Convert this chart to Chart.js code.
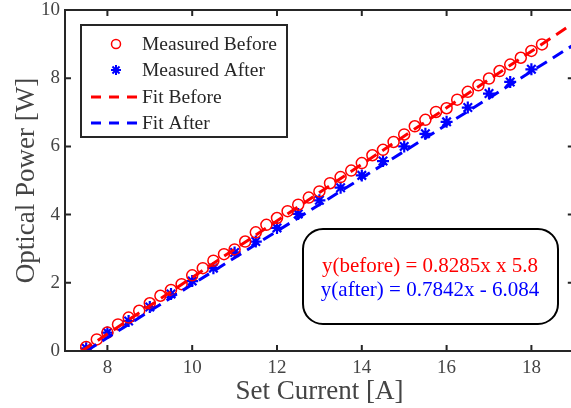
<!DOCTYPE html>
<html>
<head>
<meta charset="utf-8">
<script src="https://cdn.jsdelivr.net/npm/chart.js@4/dist/chart.umd.min.js"></script>
<style>
  html, body { margin: 0; padding: 0; background: #fff; overflow: hidden; }
  #wrap { width: 582px; height: 408px; }
</style>
</head>
<body>
<div id="wrap"><canvas id="powerChart" width="582" height="408"></canvas></div>
<script>
const currentBefore = [7.5, 7.75, 8, 8.25, 8.5, 8.75, 9, 9.25, 9.5, 9.75,
  10, 10.25, 10.5, 10.75, 11, 11.25, 11.5, 11.75, 12, 12.25, 12.5, 12.75,
  13, 13.25, 13.5, 13.75, 14, 14.25, 14.5, 14.75, 15, 15.25, 15.5, 15.75,
  16, 16.25, 16.5, 16.75, 17, 17.25, 17.5, 17.75, 18, 18.25];
const powerBefore = [0.12, 0.34, 0.54, 0.78, 0.98, 1.18, 1.40, 1.62, 1.79, 1.96,
  2.22, 2.43, 2.65, 2.84, 2.98, 3.21, 3.48, 3.70, 3.90, 4.10, 4.29, 4.50,
  4.68, 4.92, 5.10, 5.29, 5.51, 5.74, 5.90, 6.13, 6.35, 6.59, 6.78, 7.01,
  7.12, 7.37, 7.60, 7.79, 7.99, 8.21, 8.40, 8.60, 8.80, 8.99];
const currentAfter = [7.5, 8, 8.5, 9, 9.5, 10, 10.5, 11, 11.5, 12, 12.5,
  13, 13.5, 14, 14.5, 15, 15.5, 16, 16.5, 17, 17.5, 18];
const powerAfter = [0.08, 0.54, 0.88, 1.29, 1.67, 2.05, 2.43, 2.89, 3.21, 3.61, 4.02,
  4.42, 4.79, 5.15, 5.57, 6.00, 6.37, 6.72, 7.14, 7.55, 7.89, 8.26];

// fit lines: end points as they appear in the figure
const fitBeforeX = [7.4, 19];
const fitBeforeY = [0, 9.62];
const fitAfterX = [7.5, 19];
const fitAfterY = [0, 8.98];

const xTicks = [8, 10, 12, 14, 16, 18];
const yTicks = [0, 2, 4, 6, 8, 10];
const legendLabels = ['Measured Before', 'Measured After', 'Fit Before', 'Fit After'];
const equationLines = ['y(before) = 0.8285x x 5.8', 'y(after) = 0.7842x - 6.084'];

const RED = '#ff0000';
const BLUE = '#0000ff';
const AXIS = '#262626';
const TEXT = '#444444';
const SERIF = '"Liberation Serif", "Times New Roman", serif';

const toPoints = (xs, ys) => xs.map((x, i) => ({x: x, y: ys[i]}));

function drawStar(ctx, cx, cy, r) {
  ctx.beginPath();
  ctx.moveTo(cx - r, cy); ctx.lineTo(cx + r, cy);
  ctx.moveTo(cx, cy - r); ctx.lineTo(cx, cy + r);
  const d = r * Math.SQRT1_2;
  ctx.moveTo(cx - d, cy - d); ctx.lineTo(cx + d, cy + d);
  ctx.moveTo(cx - d, cy + d); ctx.lineTo(cx + d, cy - d);
  ctx.stroke();
}

const framePlugin = {
  id: 'frame',
  afterDraw(chart) {
    const {ctx, chartArea: a, scales} = chart;
    ctx.save();

    // box + inward ticks
    ctx.strokeStyle = AXIS;
    ctx.lineWidth = 2;
    ctx.strokeRect(a.left, a.top, a.right - a.left, a.bottom - a.top);
    ctx.beginPath();
    xTicks.forEach(v => {
      const px = scales.x.getPixelForValue(v);
      ctx.moveTo(px, a.bottom); ctx.lineTo(px, a.bottom - 6);
      ctx.moveTo(px, a.top); ctx.lineTo(px, a.top + 6);
    });
    yTicks.forEach(v => {
      const py = scales.y.getPixelForValue(v);
      ctx.moveTo(a.left, py); ctx.lineTo(a.left + 6, py);
      ctx.moveTo(a.right, py); ctx.lineTo(a.right - 6, py);
    });
    ctx.stroke();

    // legend
    ctx.fillStyle = '#fff';
    ctx.fillRect(81, 25, 206, 112);
    ctx.strokeRect(81, 25, 206, 112);
    const rows = [44, 70, 97, 123];
    ctx.font = '19.5px ' + SERIF;
    ctx.textBaseline = 'middle';
    ctx.textAlign = 'left';
    ctx.fillStyle = '#262626';
    legendLabels.forEach((label, i) => ctx.fillText(label, 142, rows[i] + 1));

    ctx.strokeStyle = RED;
    ctx.lineWidth = 1.5;
    ctx.beginPath();
    ctx.arc(116, rows[0], 4.5, 0, Math.PI * 2);
    ctx.stroke();
    ctx.strokeStyle = BLUE;
    ctx.lineWidth = 2;
    drawStar(ctx, 116, rows[1], 5);

    ctx.lineWidth = 3;
    ctx.setLineDash([10, 8]);
    [[RED, rows[2]], [BLUE, rows[3]]].forEach(([c, y]) => {
      ctx.strokeStyle = c;
      ctx.beginPath();
      ctx.moveTo(91, y); ctx.lineTo(138, y);
      ctx.stroke();
    });
    ctx.setLineDash([]);

    // equation box
    ctx.strokeStyle = '#000';
    ctx.lineWidth = 2;
    ctx.fillStyle = '#fff';
    ctx.beginPath();
    ctx.roundRect(303, 229, 255, 95, 20);
    ctx.fill();
    ctx.stroke();
    ctx.font = '21px ' + SERIF;
    ctx.textAlign = 'center';
    ctx.fillStyle = RED;
    ctx.fillText(equationLines[0], 430, 266);
    ctx.fillStyle = BLUE;
    ctx.fillText(equationLines[1], 430, 290);

    ctx.restore();
  }
};

const ctx = document.getElementById('powerChart').getContext('2d');
new Chart(ctx, {
  type: 'scatter',
  data: {
    datasets: [
      {
        label: 'Fit Before',
        type: 'line',
        data: toPoints(fitBeforeX, fitBeforeY),
        borderColor: RED,
        borderWidth: 3,
        borderDash: [12, 7],
        pointRadius: 0,
        fill: false,
        order: 0
      },
      {
        label: 'Fit After',
        type: 'line',
        data: toPoints(fitAfterX, fitAfterY),
        borderColor: BLUE,
        borderWidth: 3,
        borderDash: [12, 7],
        pointRadius: 0,
        fill: false,
        order: 0
      },
      {
        label: 'Measured Before',
        data: toPoints(currentBefore, powerBefore),
        pointStyle: 'circle',
        pointRadius: 5.5,
        pointBorderWidth: 1.5,
        pointBorderColor: RED,
        pointBackgroundColor: 'rgba(0,0,0,0)',
        order: 1
      },
      {
        label: 'Measured After',
        data: toPoints(currentAfter, powerAfter),
        pointStyle: 'star',
        pointRadius: 6,
        pointBorderWidth: 2.2,
        pointBorderColor: BLUE,
        pointBackgroundColor: BLUE,
        order: 1
      }
    ]
  },
  options: {
    responsive: false,
    animation: false,
    events: [],
    layout: { padding: { top: 10, right: 2, left: 0, bottom: 0 } },
    scales: {
      x: {
        type: 'linear',
        min: 7,
        max: 19,
        afterBuildTicks: scale => { scale.ticks = xTicks.map(v => ({value: v})); },
        afterFit: scale => { scale.height = 57; scale.paddingLeft = 0; scale.paddingRight = 0; },
        grid: { display: false, drawTicks: false },
        border: { display: false },
        ticks: { color: TEXT, padding: 6, font: { family: SERIF, size: 19 } },
        title: {
          display: true,
          text: 'Set Current [A]',
          color: TEXT,
          font: { family: SERIF, size: 27 },
          padding: { top: 0, bottom: 0 }
        }
      },
      y: {
        min: 0,
        max: 10,
        afterBuildTicks: scale => { scale.ticks = yTicks.map(v => ({value: v})); },
        afterFit: scale => { scale.width = 65; scale.paddingTop = 0; scale.paddingBottom = 0; },
        grid: { display: false, drawTicks: false },
        border: { display: false },
        ticks: { color: TEXT, padding: 5, font: { family: SERIF, size: 19 } },
        title: {
          display: true,
          text: 'Optical Power [W]',
          color: TEXT,
          font: { family: SERIF, size: 27 },
          padding: { top: 11, bottom: 0 }
        }
      }
    },
    plugins: {
      legend: { display: false },
      tooltip: { enabled: false }
    }
  },
  plugins: [framePlugin]
});
</script>
</body>
</html>
